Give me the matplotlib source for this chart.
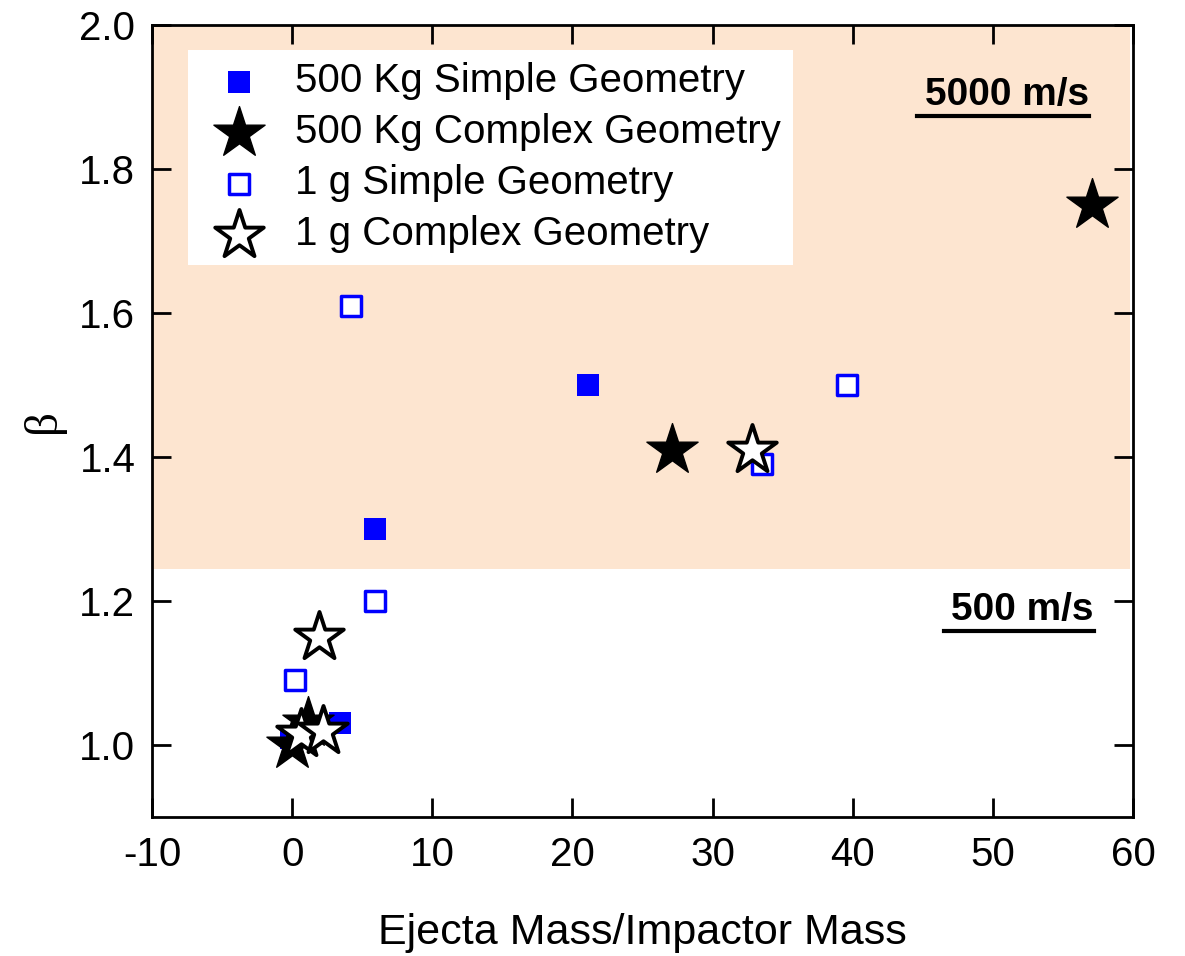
import matplotlib.pyplot as plt
from matplotlib.patches import Rectangle

plt.rcParams["font.family"] = ["Liberation Sans", "DejaVu Sans"]
plt.rcParams["axes.unicode_minus"] = False

# 500 Kg simple geometry (filled squares)
big_simple_x = [21.1, 5.9, 3.4, -0.1]
big_simple_y = [1.50, 1.30, 1.03, 1.01]

# 500 Kg complex geometry (filled stars)
big_complex_x = [57.1, 27.1, 0.0, 1.1]
big_complex_y = [1.75, 1.41, 1.00, 1.03]

# 1 g simple geometry (open squares)
small_simple_x = [4.2, 5.9, 0.2, 33.5, 39.6]
small_simple_y = [1.61, 1.20, 1.09, 1.39, 1.50]

# 1 g complex geometry (open stars)
small_complex_x = [1.9, 32.8, 0.6, 2.2]
small_complex_y = [1.15, 1.41, 1.015, 1.02]

fig = plt.figure(figsize=(11.85, 9.56), dpi=100)
ax = fig.add_axes([152 / 1185, 1 - 817 / 956, (1133 - 152) / 1185, (817 - 25) / 956])

ax.set_xlim(-10, 60)
ax.set_ylim(0.9, 2.0)

# high-velocity region shading
ax.add_patch(Rectangle((-10, 1.245), 69.8, 0.755, facecolor="#fde5d0", edgecolor="none", zorder=0))

ax.scatter(big_simple_x, big_simple_y, marker="s", s=260, color="blue", linewidths=0,
           label="500 Kg Simple Geometry", zorder=3)
ax.scatter(big_complex_x, big_complex_y, marker="*", s=1500, color="black", edgecolor="black",
           linewidths=1, label="500 Kg Complex Geometry", zorder=4)
ax.scatter(small_simple_x, small_simple_y, marker="s", s=220, facecolor="white", edgecolor="blue",
           linewidths=2.5, label="1 g Simple Geometry", zorder=5)
ax.scatter(small_complex_x, small_complex_y, marker="*", s=1350, facecolor="white", edgecolor="black",
           linewidths=2.8, label="1 g Complex Geometry", zorder=6)

ax.set_xticks(range(-10, 61, 10))
ax.set_yticks([1.0, 1.2, 1.4, 1.6, 1.8, 2.0])
ax.set_yticklabels(["1.0", "1.2", "1.4", "1.6", "1.8", "2.0"])
ax.tick_params(axis="both", direction="in", length=14, width=2, labelsize=29,
               top=True, right=True)
ax.tick_params(axis="x", pad=14)
ax.tick_params(axis="y", pad=12)
for s in ax.spines.values():
    s.set_linewidth(2)

ax.set_xlabel("Ejecta Mass/Impactor Mass", fontsize=31, labelpad=28)
ax.set_ylabel("β", fontsize=34, family="Liberation Serif", labelpad=10)

leg = ax.legend(loc="upper left", bbox_to_anchor=(0.037, 0.968), fontsize=29, frameon=True,
                fancybox=False, edgecolor="none", framealpha=1, handletextpad=0.45,
                labelspacing=0.32, borderpad=0.3, handlelength=1.9, borderaxespad=0)

ax.text(0.955, 0.911, "5000 m/s", transform=ax.transAxes, ha="right", va="center",
        fontsize=28, fontweight="bold")
ax.plot([0.78, 0.955], [0.885, 0.885], transform=ax.transAxes, color="black", lw=3)
ax.text(0.96, 0.261, "500 m/s", transform=ax.transAxes, ha="right", va="center",
        fontsize=28, fontweight="bold")
ax.plot([0.807, 0.96], [0.235, 0.235], transform=ax.transAxes, color="black", lw=3)

fig.savefig("out.png", dpi=100)
